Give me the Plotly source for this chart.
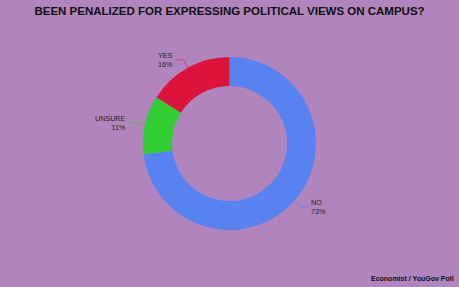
import math
import plotly.graph_objects as go

# ---- data ----
labels = ["NO", "UNSURE", "YES"]
values = [73, 11, 16]
colors = ["#5882F0", "#32CD32", "#DC143C"]
title_text = "BEEN PENALIZED FOR EXPRESSING POLITICAL VIEWS ON CAMPUS?"
source_text = "Economist / YouGov Poll"

W, H = 459, 287
ML, MR, MT, MB = 0, 0, 57, 57
BG = "#B084BC"
HOLE = 0.665

fig = go.Figure(go.Pie(
    labels=labels, values=values, sort=False, direction="clockwise", rotation=0,
    hole=HOLE, marker=dict(colors=colors, line=dict(width=0)),
    textinfo="none", showlegend=False,
))

# geometry of the pie in pixels (derived from layout)
pw, ph = W - ML - MR, H - MT - MB
cx, cy = ML + pw / 2, MT + ph / 2
R = min(pw, ph) / 2


def px2paper(x, y):
    return (x - ML) / pw, (H - MB - y) / ph


total = sum(values)
cum = 0
for lab, v, col in zip(labels, values, colors):
    mid = (cum + v / 2) / total * 2 * math.pi
    cum += v
    s, c = math.sin(mid), math.cos(mid)
    p0 = (cx + R * s, cy - R * c)
    p1 = (cx + (R + 9) * s, cy - (R + 9) * c)
    side = 1 if s > 0 else -1
    p2 = (p1[0] + 8 * side, p1[1])
    pts = [px2paper(*p) for p in (p0, p1, p2)]
    path = "M {} {} L {} {} L {} {}".format(pts[0][0], pts[0][1], pts[1][0], pts[1][1], pts[2][0], pts[2][1])
    fig.add_shape(type="path", path=path, xref="paper", yref="paper",
                  line=dict(color=col, width=1), opacity=0.6)
    tx, ty = px2paper(p2[0] + 2 * side, p2[1])
    align = "left" if side > 0 else ("center" if lab == "YES" else "right")
    fig.add_annotation(x=tx, y=ty, xref="paper", yref="paper",
                       text="{}<br>{}%".format(lab, v), showarrow=False,
                       xanchor="left" if side > 0 else "right", yanchor="middle",
                       align=align, borderpad=0, borderwidth=0,
                       font=dict(family="Liberation Sans, Arial", size=7.2, color="#222"))

sx, sy = px2paper(454, 278)
fig.add_annotation(x=sx, y=sy, xref="paper", yref="paper",
                   text="<b>" + source_text + "</b>", showarrow=False,
                   xanchor="right", yanchor="middle", borderpad=0, borderwidth=0,
                   font=dict(family="Liberation Sans, Arial", size=7, color="#111"))

fig.update_layout(
    width=W, height=H,
    margin=dict(l=ML, r=MR, t=MT, b=MB),
    paper_bgcolor=BG, plot_bgcolor=BG,
    title=dict(text="<b>" + title_text + "</b>", x=0.5, xanchor="center",
               y=1 - 10.5 / H, yanchor="middle", yref="container",
               font=dict(family="Liberation Sans, Arial", size=11.5, color="#111")),
)

fig.write_html("out.html")
